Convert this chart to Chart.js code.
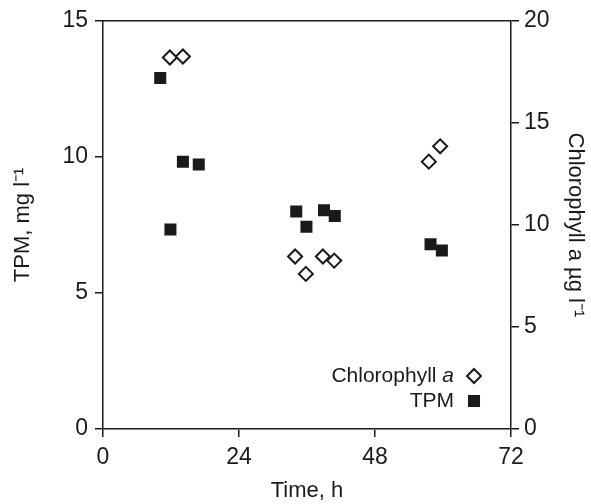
<!DOCTYPE html>
<html>
<head>
<meta charset="utf-8">
<script src="https://cdn.jsdelivr.net/npm/chart.js@4/dist/chart.umd.min.js"></script>
<style>
  html, body { margin: 0; padding: 0; background: #fff; }
  #wrap { width: 591px; height: 504px; }
</style>
</head>
<body>
<div id="wrap"><canvas id="graph" width="591" height="504"></canvas></div>
<script>
// données
const tpmTemps = [10.1, 11.9, 14.1, 16.9, 34.1, 35.9, 39.0, 40.9, 57.8, 59.8];
const tpmValeurs = [12.9, 7.33, 9.82, 9.72, 7.99, 7.43, 8.04, 7.83, 6.79, 6.56];
const chloTemps = [11.8, 14.1, 33.9, 35.8, 38.8, 40.8, 57.5, 59.5];
const chloValeurs = [18.2, 18.25, 8.45, 7.6, 8.45, 8.25, 13.1, 13.85];

// graduations
const ticksTemps = [0, 24, 48, 72];
const ticksTpm = [0, 5, 10, 15];
const ticksChlo = [0, 5, 10, 15, 20];

const police = "'Liberation Sans', Arial, Helvetica, sans-serif";
const noir = '#1a1a1a';

// cadre du haut + légende dessinée à la main (texte à gauche du symbole)
const cadreLegende = {
  id: 'cadreLegende',
  afterDraw(chart) {
    const ctx = chart.ctx;
    const a = chart.chartArea;
    ctx.save();
    ctx.strokeStyle = noir;
    ctx.lineWidth = 1.5;
    ctx.beginPath();
    ctx.moveTo(a.left, a.top);
    ctx.lineTo(a.right, a.top);
    ctx.stroke();

    const xSymbole = a.right - 37;
    const xTexte = a.right - 57;
    const y1 = a.bottom - 53;
    const y2 = a.bottom - 28;

    ctx.fillStyle = noir;
    ctx.textBaseline = 'middle';
    ctx.textAlign = 'right';
    ctx.font = 'italic 21px ' + police;
    ctx.fillText('a', xTexte, y1);
    const largA = ctx.measureText('a').width;
    ctx.font = '21px ' + police;
    ctx.fillText('Chlorophyll ', xTexte - largA, y1);
    ctx.fillText('TPM', xTexte, y2);

    // symboles : mêmes réglages que les séries
    const ds = chart.data.datasets;
    const r = ds[0].pointRadius;
    ctx.fillStyle = ds[0].backgroundColor;
    ctx.strokeStyle = ds[0].borderColor;
    ctx.lineWidth = ds[0].borderWidth;
    ctx.beginPath();
    ctx.moveTo(xSymbole, y1 - r);
    ctx.lineTo(xSymbole + r, y1);
    ctx.lineTo(xSymbole, y1 + r);
    ctx.lineTo(xSymbole - r, y1);
    ctx.closePath();
    ctx.fill();
    ctx.stroke();

    const cote = ds[1].pointRadius * Math.SQRT2;
    ctx.fillStyle = ds[1].backgroundColor;
    ctx.fillRect(xSymbole - cote / 2, y2 - cote / 2, cote, cote);
    ctx.restore();
  }
};

function axeY(ticksListe, position, titre, largeur, padTitre) {
  return {
    type: 'linear',
    position: position,
    min: ticksListe[0],
    max: ticksListe[ticksListe.length - 1],
    afterBuildTicks: s => { s.ticks = ticksListe.map(v => ({ value: v })); },
    afterFit: s => { s.width = largeur; },
    grid: { drawOnChartArea: false, drawTicks: true, tickLength: 8, color: noir, lineWidth: 1.5 },
    border: { display: true, color: noir, width: 1.5 },
    ticks: { color: noir, padding: position === 'left' ? 7 : 5, font: { family: police, size: 23 } },
    title: { display: true, text: titre, color: noir, padding: padTitre, font: { family: police, size: 22 } }
  };
}

new Chart(document.getElementById('graph'), {
  type: 'scatter',
  data: {
    datasets: [
      {
        label: 'Chlorophyll a',
        data: chloTemps.map((t, i) => ({ x: t, y: chloValeurs[i] })),
        yAxisID: 'y2',
        pointStyle: 'rectRot',
        pointRadius: 7,
        borderWidth: 2,
        borderColor: noir,
        backgroundColor: '#ffffff'
      },
      {
        label: 'TPM',
        data: tpmTemps.map((t, i) => ({ x: t, y: tpmValeurs[i] })),
        yAxisID: 'y',
        pointStyle: 'rect',
        pointRadius: 8.5,
        borderWidth: 0,
        backgroundColor: noir
      }
    ]
  },
  plugins: [cadreLegende],
  options: {
    responsive: false,
    animation: false,
    layout: { padding: { top: 16, left: 0, right: 0, bottom: 0 } },
    plugins: { legend: { display: false }, tooltip: { enabled: false } },
    scales: {
      x: {
        type: 'linear',
        min: ticksTemps[0],
        max: ticksTemps[ticksTemps.length - 1],
        afterBuildTicks: s => { s.ticks = ticksTemps.map(v => ({ value: v })); },
        afterFit: s => { s.height = 75; },
        grid: { drawOnChartArea: false, drawTicks: true, tickLength: 8, color: noir, lineWidth: 1.5 },
        border: { display: true, color: noir, width: 1.5 },
        ticks: { color: noir, padding: 7, maxRotation: 0, font: { family: police, size: 23 } },
        title: { display: true, text: 'Time, h', color: noir, padding: { top: 0, bottom: 0 }, font: { family: police, size: 22 } }
      },
      y: axeY(ticksTpm, 'left', 'TPM, mg l\u207B\u00B9', 103, { top: 10, bottom: 0 }),
      y2: axeY(ticksChlo, 'right', 'Chlorophyll a \u00B5g l\u207B\u00B9', 80, { top: 3, bottom: 0 })
    }
  }
});
</script>
</body>
</html>
